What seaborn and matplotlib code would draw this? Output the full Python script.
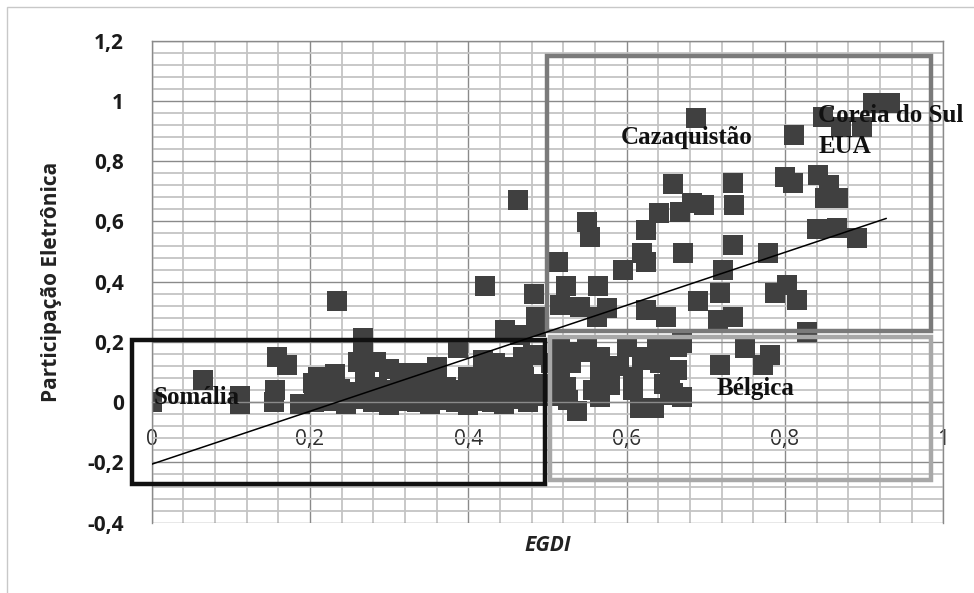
import numpy as np
import pandas as pd
import seaborn as sns
import matplotlib.pyplot as plt
from matplotlib.patches import Rectangle
from matplotlib.ticker import MultipleLocator, FuncFormatter

sns.set_style("white")
plt.rcParams['font.family'] = ['Open Sans', 'DejaVu Sans']

# EGDI (x) vs e-participation (y)
egdi_top = [0.688, 0.911, 0.933, 0.848, 0.871, 0.897, 0.811,
            0.800, 0.810, 0.842, 0.855, 0.851, 0.867,
            0.840, 0.866, 0.891,
            0.734, 0.735, 0.658, 0.698, 0.683, 0.667, 0.641,
            0.625, 0.550, 0.554, 0.513, 0.524, 0.564,
            0.595, 0.619, 0.625, 0.671, 0.734, 0.778, 0.722,
            0.690, 0.718, 0.787, 0.802, 0.815,
            0.516, 0.541, 0.575, 0.562, 0.625, 0.650, 0.715, 0.734, 0.828]
epart_top = [0.943, 0.993, 0.993, 0.948, 0.915, 0.915, 0.887,
             0.748, 0.728, 0.754, 0.722, 0.678, 0.678,
             0.575, 0.578, 0.545,
             0.728, 0.655, 0.725, 0.655, 0.660, 0.630, 0.628,
             0.573, 0.598, 0.549, 0.465, 0.387, 0.387,
             0.439, 0.496, 0.466, 0.494, 0.521, 0.496, 0.439,
             0.336, 0.362, 0.362, 0.389, 0.339,
             0.323, 0.316, 0.313, 0.283, 0.306, 0.283, 0.273, 0.283, 0.233]

egdi_mid = [0.463, 0.421, 0.483, 0.234, 0.486, 0.486, 0.446, 0.465,
            0.267, 0.267, 0.261, 0.284, 0.387, 0.482, 0.469, 0.434,
            0.419, 0.444, 0.465, 0.158, 0.171, 0.361, 0.314, 0.339]
epart_mid = [0.672, 0.384, 0.358, 0.335, 0.283, 0.250, 0.240, 0.223,
             0.213, 0.173, 0.133, 0.133, 0.180, 0.158, 0.150, 0.130,
             0.140, 0.116, 0.116, 0.150, 0.123, 0.116, 0.096, 0.096]

egdi_low = [0.000, 0.065, 0.112, 0.112, 0.156, 0.154, 0.187, 0.204, 0.221,
            0.205, 0.225, 0.245, 0.265, 0.280, 0.300, 0.318, 0.335, 0.352,
            0.370, 0.385, 0.400, 0.415, 0.430, 0.445, 0.460, 0.475, 0.490,
            0.215, 0.238, 0.260, 0.285, 0.305, 0.325, 0.348, 0.372, 0.390,
            0.410, 0.435, 0.455, 0.470, 0.490,
            0.210, 0.232, 0.270, 0.300, 0.328, 0.350, 0.400, 0.420, 0.445, 0.470]
epart_low = [0.000, 0.073, 0.020, -0.005, 0.040, 0.000, -0.005, 0.063, 0.045,
             0.000, 0.005, -0.005, 0.010, 0.000, -0.010, 0.005, 0.000, -0.005,
             0.008, 0.000, -0.008, 0.005, 0.000, -0.005, 0.010, 0.000, 0.020,
             0.040, 0.045, 0.035, 0.050, 0.040, 0.045, 0.038, 0.050, 0.042,
             0.035, 0.048, 0.040, 0.050, 0.060,
             0.085, 0.095, 0.080, 0.110, 0.090, 0.080, 0.085, 0.075, 0.080, 0.083]

egdi_right = [0.516, 0.541, 0.566, 0.566, 0.600, 0.620, 0.638, 0.663, 0.670,
              0.516, 0.526, 0.537, 0.579, 0.566, 0.608, 0.617, 0.655, 0.663,
              0.634, 0.516, 0.524, 0.558, 0.566, 0.579, 0.608, 0.625, 0.642,
              0.655, 0.658, 0.670, 0.750, 0.781, 0.772, 0.718, 0.505, 0.505,
              0.550, 0.590, 0.647, 0.530]
epart_right = [0.183, 0.166, 0.150, 0.090, 0.183, 0.140, 0.183, 0.183, 0.196,
               0.057, 0.007, -0.030, 0.057, 0.017, 0.040, -0.020, 0.024, 0.107,
               -0.020, 0.096, 0.050, 0.040, 0.116, 0.073, 0.083, 0.150, 0.130,
               0.083, 0.030, 0.017, 0.180, 0.156, 0.123, 0.123, 0.020, 0.130,
               0.183, 0.120, 0.060, 0.130]

# linear trend line endpoints
trend_x = [0.0, 0.928]
trend_y = [-0.206, 0.61]

# labelled countries
label_names = ["Somália", "Cazaquistão", "Coreia do Sul", "EUA", "Bélgica"]
label_x = [0.002, 0.592, 0.842, 0.842, 0.714]
label_y = [0.014, 0.877, 0.950, 0.848, 0.047]

df = pd.DataFrame({
    "EGDI": egdi_top + egdi_mid + egdi_low + egdi_right,
    "EPART": epart_top + epart_mid + epart_low + epart_right,
})

fig = plt.figure(figsize=(9.74, 5.93), dpi=100)
ax = fig.add_axes([0.1557, 0.1186, 0.8128, 0.8128])

ax.set_xlim(0, 1)
ax.set_ylim(-0.4, 1.2)
ax.xaxis.set_major_locator(MultipleLocator(0.2))
ax.xaxis.set_minor_locator(MultipleLocator(0.04))
ax.yaxis.set_major_locator(MultipleLocator(0.2))
ax.yaxis.set_minor_locator(MultipleLocator(0.04))
ax.grid(which='minor', color='#c4c4c4', lw=1.3, zorder=0)
ax.grid(which='major', color='#8a8a8a', lw=1.0, zorder=0)
ax.set_axisbelow(True)

def comma(v, pos):
    s = ('%.1f' % v).replace('.', ',')
    if s.endswith(',0'):
        s = s[:-2]
    if s == '-0':
        s = '0'
    return s

ax.xaxis.set_major_formatter(FuncFormatter(comma))
ax.yaxis.set_major_formatter(FuncFormatter(comma))

for side in ['top', 'right', 'left']:
    ax.spines[side].set_color('#8a8a8a')
    ax.spines[side].set_linewidth(1.0)
ax.spines['bottom'].set_position(('data', 0))
ax.spines['bottom'].set_color('#8a8a8a')
ax.spines['bottom'].set_linewidth(1.0)

ax.tick_params(axis='y', which='major', length=6, width=1, color='#8a8a8a',
               pad=14, labelsize=15, labelcolor='#1a1a1a')
ax.tick_params(axis='y', which='minor', length=0)
ax.tick_params(axis='x', which='both', length=0, pad=19, labelsize=15,
               labelcolor='#2e2e2e')
for t in ax.get_yticklabels():
    t.set_fontweight('bold')

# region boxes
ax.add_patch(Rectangle((0.503, -0.26), 0.481, 0.475, fill=False,
                       ec='#a8a8a8', lw=3.2, zorder=3, clip_on=False))
ax.add_patch(Rectangle((0.500, 0.237), 0.484, 0.912, fill=False,
                       ec='#7a7a7a', lw=3.2, zorder=3, clip_on=False))
ax.add_patch(Rectangle((-0.025, -0.272), 0.522, 0.478, fill=False,
                       ec='#111111', lw=3.2, zorder=3, clip_on=False))

sns.scatterplot(data=df, x="EGDI", y="EPART", marker='s', s=200,
                color='#404040', linewidth=0, ax=ax, zorder=2, legend=False)
sns.lineplot(x=trend_x, y=trend_y, color='black', lw=1.1, ax=ax, zorder=4)

for name, x, y in zip(label_names, label_x, label_y):
    ax.text(x, y, name, family='Liberation Serif', fontweight='bold',
            fontsize=18, color='#111111', va='center', ha='left',
            zorder=5, clip_on=False)

ax.set_xlabel("EGDI", fontsize=15, fontweight='bold', style='italic',
              color='#222222')
ax.xaxis.set_label_coords(0.5, -0.025)
ax.set_ylabel("Participação Eletrônica", fontsize=15, fontweight='bold',
              color='#222222')
ax.yaxis.set_label_coords(-0.113, 0.5)

fig.add_artist(Rectangle((7 / 974, -0.1), 1.2, 1.1 - 7 / 593, fill=False,
                         ec='#c8c8c8', lw=1, transform=fig.transFigure))

plt.savefig("out.png", dpi=100)
